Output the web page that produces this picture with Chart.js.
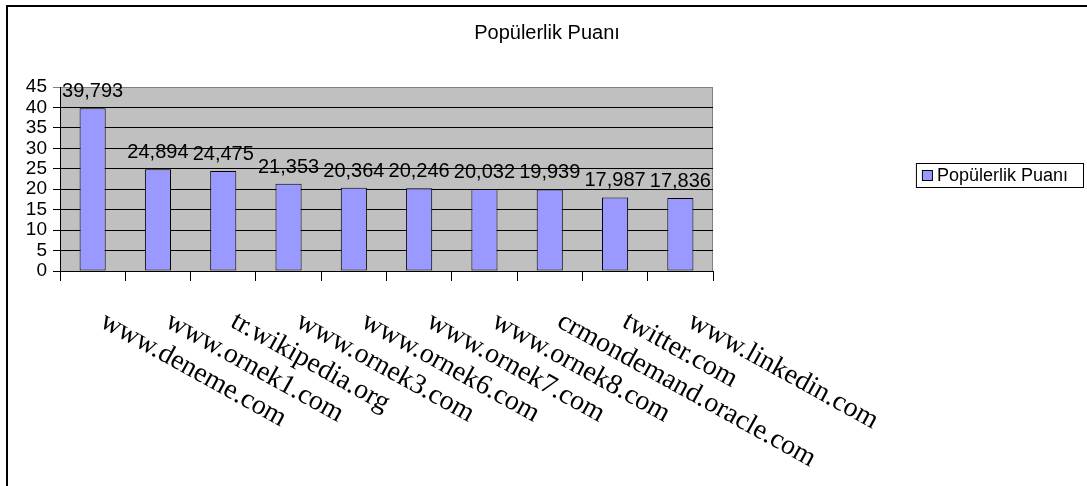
<!DOCTYPE html>
<html>
<head>
<meta charset="utf-8">
<title>Popülerlik Puanı</title>
<script src="https://cdn.jsdelivr.net/npm/chart.js@4.4.1/dist/chart.umd.min.js"></script>
<style>
	body { margin: 0; background: #fff; }
	canvas { display: block; }
</style>
</head>
<body>
<canvas id="puan-bar" width="1087" height="486"></canvas>
<script>
let sites = ["www.deneme.com", "www.ornek1.com", "tr.wikipedia.org", "www.ornek3.com", "www.ornek6.com",
	"www.ornek7.com", "www.ornek8.com", "crmondemand.oracle.com", "twitter.com", "www.linkedin.com"];
let puanlar = [39.793, 24.894, 24.475, 21.353, 20.364, 20.246, 20.032, 19.939, 17.987, 17.836];
let yTicks = [0, 5, 10, 15, 20, 25, 30, 35, 40, 45];
let seriesName = "Popülerlik Puanı";

const sans = "'Liberation Sans', Arial, sans-serif";
const serif = "'Liberation Serif', 'Times New Roman', serif";

function trNumber(v) {
	return v.toFixed(3).replace(".", ",");
}

// white page, frame lines, grey plot area
var backPlugin = {
	id: "back",
	beforeDraw: (chart) => {
		let ctx = chart.ctx;
		let a = chart.chartArea;
		ctx.save();
		ctx.fillStyle = "#fff";
		ctx.fillRect(0, 0, chart.width, chart.height);
		ctx.fillStyle = "#000";
		ctx.fillRect(6, 5, chart.width - 6, 2);
		ctx.fillRect(6, 5, 2, chart.height - 5);
		ctx.fillStyle = "#c0c0c0";
		ctx.fillRect(a.left, a.top, a.right - a.left, a.bottom - a.top);
		ctx.strokeStyle = "#808080";
		ctx.lineWidth = 1;
		ctx.strokeRect(a.left + 0.5, a.top + 0.5, a.right - a.left - 1, a.bottom - a.top);
		ctx.restore();
	}
};

// values above the bars and slanted category names
var textPlugin = {
	id: "texts",
	afterDatasetsDraw: (chart) => {
		let ctx = chart.ctx;
		let meta = chart.getDatasetMeta(0);
		ctx.save();
		ctx.fillStyle = "#000";
		ctx.font = "20px " + sans;
		ctx.textAlign = "center";
		ctx.textBaseline = "alphabetic";
		meta.data.forEach((bar, i) => {
			ctx.fillText(trNumber(puanlar[i]), bar.x, bar.y - 11);
		});

		let xScale = chart.scales.x;
		ctx.font = "28px " + serif;
		ctx.textAlign = "left";
		for (let i = 0; i < sites.length; i++) {
			ctx.save();
			ctx.translate(xScale.getPixelForValue(i) + 6, chart.chartArea.bottom + 55);
			ctx.rotate(29 * Math.PI / 180);
			ctx.fillText(sites[i], 0, 0);
			ctx.restore();
		}
		ctx.restore();
	}
};

// boxed legend on the right
var legendPlugin = {
	id: "boxLegend",
	afterDraw: (chart) => {
		let ctx = chart.ctx;
		let ds = chart.data.datasets[0];
		ctx.save();
		ctx.font = "18px " + sans;
		let tw = ctx.measureText(ds.label).width;
		let right = 1083, top = 163, h = 24;
		let left = right - tw - 36;
		ctx.fillStyle = "#fff";
		ctx.fillRect(left, top, right - left, h);
		ctx.strokeStyle = "#000";
		ctx.lineWidth = 1;
		ctx.strokeRect(left + 0.5, top + 0.5, right - left, h);
		ctx.fillStyle = ds.backgroundColor;
		ctx.fillRect(left + 6.5, top + 7.5, 10, 10);
		ctx.strokeRect(left + 6.5, top + 7.5, 10, 10);
		ctx.fillStyle = "#000";
		ctx.textBaseline = "middle";
		ctx.fillText(ds.label, left + 21, top + h / 2 + 1);
		ctx.restore();
	}
};

var chartData = {
	labels: sites,
	datasets: [{
		label: seriesName,
		data: puanlar,
		backgroundColor: "#9999ff",
		borderColor: "#000",
		borderWidth: 1,
		borderSkipped: false,
		barPercentage: 0.4,
		categoryPercentage: 1.0
	}]
};

var ctx = document.getElementById("puan-bar");
var barGraph = new Chart(ctx, {
	type: "bar",
	data: chartData,
	plugins: [backPlugin, textPlugin, legendPlugin],
	options: {
		responsive: false,
		devicePixelRatio: 1,
		animation: false,
		layout: { padding: { left: 7, top: 0, right: 0, bottom: 0 } },
		plugins: {
			legend: { display: false },
			tooltip: { enabled: false },
			title: {
				display: true,
				text: seriesName,
				color: "#000",
				font: { family: sans, size: 20, weight: "normal", lineHeight: 1.2 },
				padding: { top: 21, bottom: 42 }
			}
		},
		scales: {
			x: {
				grid: {
					display: true,
					drawOnChartArea: false,
					offset: true,
					color: "#000",
					tickLength: 10
				},
				border: { display: true, color: "#000" },
				ticks: { display: false },
				afterFit: (scale) => { scale.height = 215; }
			},
			y: {
				min: 0,
				max: 45,
				afterBuildTicks: (scale) => {
					scale.ticks = yTicks.map((v) => ({ value: v }));
				},
				grid: {
					color: (c) => c.tick && c.tick.value === 45 ? "#808080" : "#000",
					tickLength: 7
				},
				border: { display: true, color: "#000" },
				ticks: {
					color: "#000",
					padding: 6,
					autoSkip: false,
					font: { family: sans, size: 19 }
				},
				afterFit: (scale) => { scale.width = 53; }
			},
			side: {
				type: "linear",
				position: "right",
				grid: { display: false },
				border: { display: false },
				ticks: { display: false },
				afterFit: (scale) => { scale.width = 374; }
			}
		}
	}
});
</script>
</body>
</html>
